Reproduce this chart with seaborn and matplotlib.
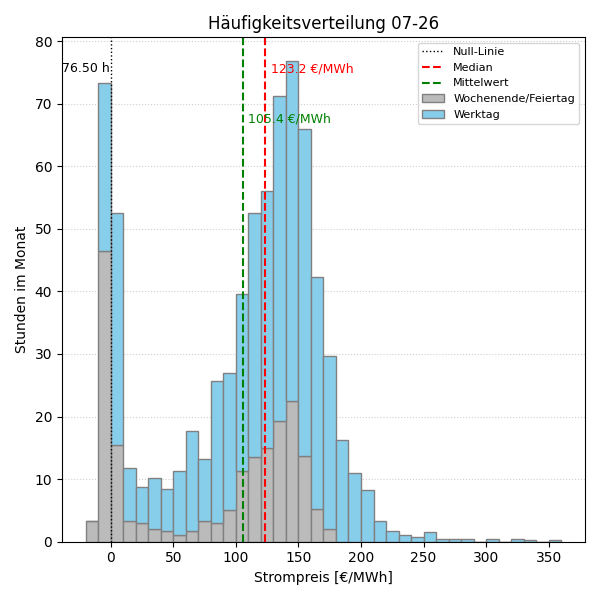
import numpy as np
import pandas as pd
import seaborn as sns
import matplotlib.pyplot as plt
from matplotlib.patches import Patch
from matplotlib.lines import Line2D

# Bins (left edges, 10 EUR/MWh wide)
bin_left = [-20, -10, 0, 10, 20, 30, 40, 50, 60, 70, 80, 90, 100, 110, 120, 130, 140, 150, 160,
            170, 180, 190, 200, 210, 220, 230, 240, 250, 260, 270, 280, 290, 300, 310, 320, 330, 340, 350]

# hours per bin
weekend_hours = [3.25, 46.5, 15.5, 3.25, 3.0, 2.0, 1.75, 1.0, 1.75, 3.25, 3.0, 5.0, 11.25, 13.5, 15.0,
                 19.25, 22.5, 13.75, 5.25, 2.0, 0, 0, 0, 0, 0, 0, 0, 0, 0, 0, 0, 0, 0, 0, 0, 0, 0, 0]
weekday_hours = [0, 26.75, 37.0, 8.5, 5.75, 8.25, 6.75, 10.25, 16.0, 10.0, 22.75, 22.0, 28.25, 39.0, 41.0,
                 52.0, 54.25, 52.25, 37.0, 27.75, 16.25, 11.0, 8.25, 3.25, 1.75, 1.0, 0.75, 1.5, 0.5,
                 0.5, 0.5, 0, 0.5, 0, 0.5, 0.25, 0, 0.25]

median_price = 123.2
mean_price = 105.4
hours_le_zero = 76.50

bin_width = 10
edges = bin_left + [bin_left[-1] + bin_width]
centers = np.array(bin_left) + bin_width / 2

df = pd.concat([
    pd.DataFrame({"preis": centers, "stunden": weekend_hours, "typ": "Wochenende/Feiertag"}),
    pd.DataFrame({"preis": centers, "stunden": weekday_hours, "typ": "Werktag"}),
], ignore_index=True)

colors = {"Wochenende/Feiertag": "#bbbbbb", "Werktag": "skyblue"}

fig, ax = plt.subplots(figsize=(6, 6), dpi=100)
sns.histplot(data=df, x="preis", weights="stunden", hue="typ",
             hue_order=["Werktag", "Wochenende/Feiertag"], multiple="stack",
             bins=edges, palette=colors, edgecolor="gray", linewidth=1,
             alpha=1, legend=False, ax=ax)

ax.axvline(0, color="black", linestyle=":", linewidth=1)
ax.axvline(median_price, color="red", linestyle="--", linewidth=1.5)
ax.axvline(mean_price, color="green", linestyle="--", linewidth=1.5)

ax.text(-1, 75.6, f"{hours_le_zero:.2f} h", ha="right", va="center", fontsize=9, color="black")
ax.text(median_price + 5, 75.6, f"{median_price:.1f} €/MWh", ha="left", va="center", fontsize=9, color="red")
ax.text(mean_price + 4.5, 67.6, f"{mean_price:.1f} €/MWh", ha="left", va="center", fontsize=9, color="green")

handles = [
    Line2D([0], [0], color="black", linestyle=":", linewidth=1),
    Line2D([0], [0], color="red", linestyle="--", linewidth=1.5),
    Line2D([0], [0], color="green", linestyle="--", linewidth=1.5),
    Patch(facecolor="#bbbbbb", edgecolor="gray"),
    Patch(facecolor="skyblue", edgecolor="gray"),
]
labels = ["Null-Linie", "Median", "Mittelwert", "Wochenende/Feiertag", "Werktag"]
ax.legend(handles, labels, loc="upper right", fontsize=8)

ax.set_title("Häufigkeitsverteilung 07-26")
ax.set_xlabel("Strompreis [€/MWh]")
ax.set_ylabel("Stunden im Monat")
ax.grid(axis="y", linestyle=":", alpha=0.6)
ax.set_axisbelow(True)

plt.tight_layout()
plt.savefig("out.png")
